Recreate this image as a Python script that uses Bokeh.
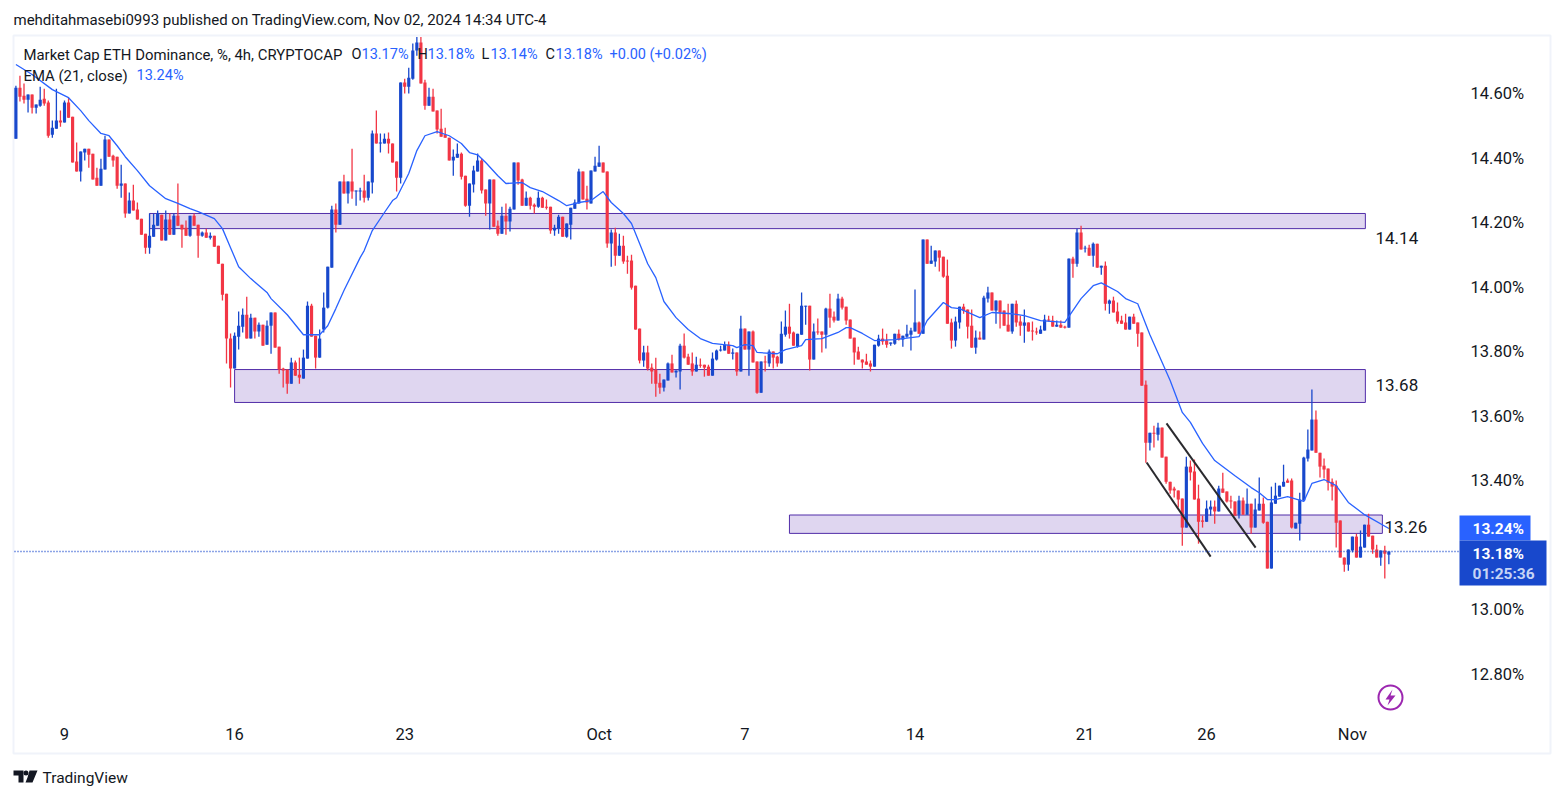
from bokeh.plotting import figure
from bokeh.embed import file_html
from bokeh.resources import INLINE
from bokeh.models import (ColumnDataSource, Label, LinearAxis, FixedTicker,
                          PrintfTickFormatter, Range1d)
import numpy as np

opens = [14.460,14.618,14.593,14.581,14.597,14.556,14.562,14.584,14.572,14.472,
14.491,14.516,14.510,14.572,14.528,14.389,14.358,14.417,14.429,14.413,
14.339,14.314,14.364,14.457,14.407,14.404,14.314,14.321,14.228,14.268,
14.240,14.212,14.165,14.122,14.156,14.190,14.224,14.144,14.209,14.162,
14.221,14.193,14.184,14.159,14.221,14.193,14.159,14.169,14.153,14.159,
14.128,14.072,13.979,13.840,13.747,13.846,13.877,13.914,13.840,13.905,
13.862,13.883,13.821,13.880,13.921,13.815,13.747,13.744,13.700,13.766,
13.728,13.716,13.778,13.942,13.849,13.781,13.868,13.936,14.060,14.240,
14.193,14.327,14.290,14.327,14.296,14.296,14.299,14.277,14.324,14.476,
14.445,14.445,14.460,14.445,14.389,14.339,14.634,14.621,14.646,14.733,
14.758,14.634,14.562,14.590,14.547,14.491,14.472,14.463,14.392,14.401,
14.413,14.345,14.252,14.318,14.358,14.392,14.302,14.259,14.333,14.190,
14.165,14.221,14.203,14.240,14.386,14.333,14.252,14.277,14.255,14.249,
14.277,14.249,14.249,14.175,14.181,14.218,14.156,14.193,14.243,14.259,
14.358,14.274,14.259,14.358,14.373,14.386,14.358,14.135,14.169,14.097,
14.128,14.082,14.082,14.004,13.871,13.772,13.797,13.750,13.744,13.703,
13.688,13.710,13.763,13.735,13.738,13.818,13.784,13.763,13.738,13.759,
13.759,13.753,13.725,13.775,13.803,13.803,13.821,13.793,13.797,13.738,
13.871,13.806,13.862,13.769,13.672,13.769,13.763,13.800,13.784,13.763,
13.852,13.877,13.859,13.815,13.852,13.939,13.942,13.775,13.862,13.862,
13.852,13.933,13.908,13.896,13.964,13.939,13.899,13.843,13.800,13.775,
13.769,13.763,13.753,13.818,13.840,13.834,13.824,13.824,13.855,13.837,
13.846,13.852,13.862,13.890,13.855,14.147,14.072,14.079,14.113,14.094,
14.035,13.890,13.834,13.890,13.939,13.930,13.880,13.812,13.843,13.837,
13.964,13.983,13.927,13.958,13.927,13.883,13.862,13.948,13.893,13.880,
13.890,13.865,13.862,13.855,13.865,13.899,13.896,13.877,13.883,13.877,
13.874,14.088,14.072,14.169,14.119,14.122,14.097,14.134,14.060,14.066,
13.948,13.958,13.924,13.896,13.890,13.868,13.908,13.890,13.859,13.697,
13.517,13.548,13.542,13.564,13.474,13.396,13.375,13.369,13.344,13.254,
13.443,13.428,13.344,13.276,13.272,13.310,13.319,13.304,13.375,13.366,
13.338,13.335,13.294,13.338,13.294,13.328,13.254,13.307,13.328,13.272,
13.127,13.328,13.350,13.381,13.400,13.400,13.251,13.266,13.338,13.468,
13.493,13.589,13.486,13.446,13.437,13.396,13.384,13.276,13.161,13.139,
13.183,13.226,13.161,13.192,13.263,13.229,13.186,13.161,13.183,13.170]

highs = [14.624,14.655,14.631,14.597,14.597,14.566,14.621,14.615,14.578,14.516,
14.615,14.547,14.578,14.587,14.528,14.448,14.420,14.429,14.429,14.413,
14.370,14.398,14.469,14.457,14.410,14.404,14.379,14.321,14.293,14.317,
14.262,14.212,14.165,14.228,14.228,14.237,14.224,14.237,14.228,14.228,
14.321,14.193,14.206,14.221,14.228,14.193,14.172,14.181,14.169,14.159,
14.128,14.072,13.979,13.856,13.859,13.924,13.933,13.970,13.917,13.905,
13.890,13.883,13.896,13.921,13.921,13.815,13.750,13.744,13.781,13.772,
13.781,13.806,13.955,13.948,13.849,13.868,13.983,14.063,14.252,14.259,
14.327,14.348,14.327,14.429,14.299,14.308,14.348,14.327,14.485,14.547,
14.476,14.476,14.479,14.445,14.389,14.634,14.646,14.680,14.755,14.775,
14.775,14.643,14.618,14.615,14.547,14.553,14.494,14.463,14.426,14.445,
14.417,14.345,14.321,14.376,14.414,14.398,14.302,14.333,14.333,14.206,
14.249,14.259,14.249,14.386,14.386,14.336,14.296,14.280,14.259,14.296,
14.280,14.271,14.249,14.193,14.224,14.218,14.197,14.246,14.271,14.367,
14.358,14.314,14.361,14.404,14.438,14.386,14.358,14.178,14.184,14.165,
14.159,14.097,14.100,14.004,13.871,13.818,13.818,13.763,13.781,13.731,
13.713,13.766,13.790,13.741,13.824,13.856,13.793,13.797,13.784,13.778,
13.759,13.759,13.797,13.806,13.818,13.831,13.831,13.809,13.797,13.911,
13.871,13.862,13.865,13.769,13.769,13.787,13.806,13.800,13.787,13.893,
13.927,13.948,13.862,13.855,13.983,13.942,13.942,13.887,13.902,13.862,
13.936,13.979,13.924,13.979,13.970,13.939,13.899,13.843,13.815,13.775,
13.793,13.772,13.821,13.852,13.871,13.855,13.828,13.855,13.868,13.849,
13.883,13.874,13.992,13.893,14.147,14.147,14.128,14.113,14.113,14.094,
14.085,13.902,13.908,13.939,13.948,13.930,13.930,13.865,13.862,13.973,
14.001,13.983,13.958,13.958,13.927,13.948,13.948,13.958,13.911,13.930,
13.890,13.893,13.874,13.880,13.914,13.911,13.911,13.896,13.896,13.880,
14.088,14.094,14.181,14.190,14.128,14.131,14.138,14.134,14.066,14.079,
13.961,13.970,13.952,13.911,13.917,13.908,13.917,13.890,13.859,13.710,
13.548,13.570,13.579,13.564,13.474,13.396,13.381,13.369,13.344,13.474,
13.462,13.465,13.387,13.291,13.338,13.338,13.338,13.384,13.424,13.366,
13.353,13.335,13.353,13.347,13.375,13.328,13.344,13.409,13.347,13.272,
13.381,13.393,13.384,13.449,13.406,13.406,13.269,13.362,13.474,13.558,
13.682,13.617,13.486,13.468,13.437,13.406,13.400,13.276,13.161,13.186,
13.226,13.235,13.245,13.263,13.297,13.229,13.201,13.183,13.198,13.180]

lows = [14.460,14.575,14.569,14.541,14.538,14.538,14.559,14.562,14.463,14.463,
14.491,14.497,14.510,14.525,14.386,14.358,14.327,14.392,14.370,14.333,
14.314,14.314,14.364,14.404,14.373,14.305,14.277,14.215,14.228,14.237,
14.209,14.162,14.103,14.103,14.156,14.190,14.144,14.144,14.162,14.162,
14.190,14.122,14.159,14.156,14.190,14.091,14.156,14.153,14.147,14.125,
14.072,13.958,13.763,13.688,13.747,13.806,13.859,13.840,13.840,13.840,
13.846,13.818,13.821,13.793,13.812,13.731,13.688,13.669,13.700,13.725,
13.700,13.716,13.778,13.846,13.747,13.781,13.859,13.933,14.060,14.169,
14.193,14.290,14.259,14.274,14.252,14.268,14.262,14.268,14.290,14.445,
14.417,14.445,14.414,14.386,14.296,14.321,14.600,14.600,14.643,14.717,
14.631,14.550,14.562,14.544,14.476,14.466,14.463,14.392,14.345,14.401,
14.333,14.249,14.218,14.293,14.358,14.290,14.221,14.178,14.187,14.159,
14.165,14.162,14.172,14.240,14.317,14.252,14.252,14.240,14.228,14.246,
14.246,14.240,14.165,14.159,14.165,14.156,14.153,14.147,14.243,14.259,
14.271,14.240,14.259,14.358,14.373,14.355,14.122,14.063,14.066,14.097,
14.072,14.041,13.992,13.868,13.763,13.753,13.741,13.700,13.660,13.669,
13.676,13.710,13.735,13.719,13.682,13.778,13.759,13.725,13.738,13.750,
13.722,13.725,13.725,13.772,13.800,13.803,13.793,13.775,13.725,13.738,
13.806,13.725,13.766,13.669,13.672,13.738,13.753,13.747,13.753,13.763,
13.846,13.840,13.818,13.812,13.852,13.883,13.741,13.775,13.852,13.797,
13.809,13.874,13.890,13.896,13.930,13.883,13.840,13.759,13.775,13.747,
13.759,13.738,13.753,13.815,13.821,13.812,13.818,13.821,13.834,13.815,
13.843,13.803,13.862,13.855,13.855,14.072,14.072,14.063,14.048,14.029,
13.886,13.809,13.815,13.871,13.917,13.840,13.812,13.793,13.837,13.837,
13.952,13.927,13.886,13.871,13.880,13.862,13.855,13.877,13.849,13.827,
13.862,13.834,13.852,13.855,13.865,13.893,13.877,13.877,13.874,13.871,
13.874,14.029,14.063,14.116,14.107,14.097,14.063,14.060,14.038,13.927,
13.917,13.921,13.886,13.886,13.868,13.868,13.886,13.815,13.694,13.455,
13.493,13.502,13.524,13.471,13.390,13.359,13.347,13.316,13.198,13.254,
13.400,13.341,13.204,13.254,13.272,13.291,13.266,13.304,13.362,13.332,
13.313,13.291,13.282,13.294,13.294,13.235,13.254,13.307,13.266,13.127,
13.127,13.328,13.350,13.381,13.393,13.251,13.251,13.214,13.338,13.459,
13.493,13.486,13.409,13.406,13.369,13.338,13.192,13.161,13.117,13.120,
13.177,13.161,13.161,13.192,13.226,13.173,13.161,13.136,13.096,13.140]

closes = [14.618,14.590,14.581,14.597,14.556,14.566,14.581,14.569,14.469,14.494,
14.516,14.510,14.572,14.525,14.386,14.358,14.420,14.429,14.410,14.333,
14.314,14.367,14.457,14.404,14.392,14.314,14.321,14.228,14.268,14.237,
14.209,14.162,14.122,14.159,14.193,14.228,14.144,14.209,14.162,14.221,
14.190,14.178,14.159,14.221,14.190,14.159,14.169,14.153,14.159,14.125,
14.072,13.976,13.840,13.747,13.849,13.880,13.914,13.840,13.905,13.862,
13.883,13.818,13.880,13.921,13.812,13.744,13.741,13.700,13.766,13.725,
13.719,13.781,13.942,13.846,13.781,13.840,13.936,14.063,14.240,14.193,
14.327,14.290,14.327,14.296,14.299,14.299,14.277,14.327,14.476,14.445,
14.448,14.460,14.445,14.386,14.339,14.634,14.621,14.649,14.733,14.758,
14.631,14.562,14.590,14.544,14.488,14.466,14.463,14.392,14.404,14.413,
14.342,14.252,14.321,14.361,14.392,14.299,14.259,14.333,14.187,14.165,
14.221,14.203,14.243,14.386,14.330,14.252,14.277,14.252,14.249,14.277,
14.246,14.246,14.175,14.184,14.218,14.156,14.197,14.246,14.262,14.358,
14.271,14.262,14.361,14.376,14.386,14.355,14.135,14.169,14.097,14.128,
14.079,14.079,13.998,13.868,13.772,13.797,13.747,13.738,13.700,13.688,
13.713,13.763,13.735,13.741,13.818,13.781,13.759,13.738,13.759,13.756,
13.750,13.725,13.778,13.803,13.806,13.821,13.793,13.797,13.738,13.871,
13.806,13.862,13.766,13.672,13.769,13.766,13.800,13.781,13.763,13.855,
13.877,13.855,13.818,13.855,13.942,13.942,13.775,13.862,13.859,13.852,
13.933,13.905,13.896,13.964,13.936,13.896,13.840,13.797,13.775,13.766,
13.759,13.753,13.821,13.840,13.831,13.821,13.828,13.855,13.837,13.849,
13.855,13.865,13.890,13.855,14.147,14.072,14.082,14.113,14.091,14.032,
13.886,13.834,13.893,13.939,13.927,13.877,13.812,13.843,13.837,13.967,
13.983,13.927,13.958,13.921,13.880,13.862,13.948,13.890,13.880,13.890,
13.862,13.862,13.859,13.868,13.899,13.896,13.877,13.883,13.874,13.874,
14.088,14.072,14.169,14.116,14.122,14.097,14.134,14.060,14.066,13.948,
13.958,13.921,13.893,13.886,13.868,13.908,13.886,13.855,13.694,13.517,
13.548,13.545,13.564,13.471,13.396,13.369,13.369,13.341,13.254,13.443,
13.425,13.341,13.272,13.272,13.313,13.319,13.304,13.375,13.362,13.335,
13.335,13.291,13.338,13.294,13.328,13.254,13.310,13.328,13.269,13.127,
13.332,13.353,13.384,13.396,13.393,13.254,13.269,13.341,13.471,13.496,
13.589,13.486,13.443,13.434,13.393,13.381,13.269,13.161,13.139,13.186,
13.226,13.161,13.195,13.263,13.226,13.186,13.161,13.183,13.173,13.180]

ema_index = [0,4,9,13,16,18,21,23,25,27,30,33,37,40,43,45,49,51,53,55,58,62,63,67,71,75,77,79,81,85,86,88,91,93,94,97,99,101,104,107,110,112,114,116,119,121,125,127,130,134,136,139,142,145,147,150,152,154,156,158,160,163,166,169,172,177,178,180,182,183,188,190,194,195,199,203,205,206,209,212,217,223,225,229,231,233,238,241,246,249,253,259,263,266,268,272,274,277,280,285,288,290,293,296,301,305,307,309,311,314,318,320,323,326,329,333,339]
ema_value = [14.690,14.659,14.612,14.587,14.547,14.516,14.476,14.469,14.438,14.404,14.361,14.314,14.274,14.259,14.243,14.234,14.212,14.181,14.122,14.063,14.026,13.983,13.964,13.914,13.852,13.852,13.880,13.933,13.989,14.091,14.113,14.175,14.231,14.268,14.277,14.352,14.423,14.469,14.482,14.469,14.445,14.417,14.410,14.386,14.345,14.321,14.324,14.308,14.296,14.268,14.252,14.262,14.268,14.296,14.262,14.228,14.197,14.135,14.072,14.029,13.955,13.905,13.868,13.840,13.825,13.818,13.812,13.821,13.818,13.797,13.793,13.806,13.818,13.837,13.840,13.859,13.874,13.874,13.856,13.834,13.837,13.846,13.896,13.952,13.936,13.933,13.905,13.921,13.917,13.911,13.896,13.890,13.964,14.004,14.013,13.986,13.964,13.948,13.852,13.710,13.611,13.580,13.515,13.462,13.415,13.378,13.362,13.341,13.341,13.350,13.335,13.391,13.403,13.384,13.332,13.294,13.251]

zone_start = [33.0, 54.0, 191.0]
zone_end = [333.2, 333.2, 337.4]
zone_top = [14.228, 13.744, 13.293]
zone_bottom = [14.181, 13.642, 13.236]
zone_labels = ["14.14", "13.68", "13.26"]

trend_x0 = [279.2, 284.1]
trend_y0 = [13.456, 13.577]
trend_x1 = [295.0, 306.1]
trend_y1 = [13.164, 13.192]

date_ticks = [12, 54, 96, 144, 180, 222, 264, 294, 330]
date_labels = ["9", "16", "23", "Oct", "7", "14", "21", "26", "Nov"]
price_ticks = [12.8, 13.0, 13.4, 13.6, 13.8, 14.0, 14.2, 14.4, 14.6]
last_price = 13.18
ema_last = 13.24

BLUE = "#1848cc"
RED = "#f23645"
FONT = "Roboto"
INK = "#131722"
W, H = 1555, 790


def X(px):
    return (px - 15.4) / 4.05


def Y(py):
    return 14.6 - (py - 93) / 322.5


p = figure(width=W, height=H, output_backend="svg", toolbar_location=None,
           x_range=Range1d(X(0), X(W)), y_range=Range1d(Y(H), Y(0)),
           min_border=0, x_axis_location=None, y_axis_location=None,
           background_fill_color="white", border_fill_color="white", outline_line_color=None)
p.grid.visible = False

xa = LinearAxis(ticker=FixedTicker(ticks=date_ticks), fixed_location=Y(718),
                major_label_overrides={t: l for t, l in zip(date_ticks, date_labels)})
ya = LinearAxis(ticker=FixedTicker(ticks=price_ticks), fixed_location=X(1460),
                formatter=PrintfTickFormatter(format="%.2f%%"))
for a in (xa, ya):
    a.axis_line_color = None
    a.major_tick_line_color = None
    a.minor_tick_line_color = None
    a.major_label_text_color = INK
    a.major_label_text_font = FONT
    a.major_label_text_font_size = "16.5px"
xa.major_label_standoff = 0
ya.major_label_standoff = 4
p.add_layout(xa, "below")
p.add_layout(ya, "right")

# outer pane border
p.quad(left=[X(13)], right=[X(1550)], top=[Y(35)], bottom=[Y(753)],
       fill_color=None, line_color="#f0f3fa", line_width=2)

p.quad(left=zone_start, right=zone_end, top=zone_top, bottom=zone_bottom,
       fill_color="#d1c4e9", fill_alpha=0.7, line_color="#512da8", line_width=1)

o, h, l, c = map(np.array, (opens, highs, lows, closes))
idx = np.arange(len(o))
up = c >= o
for mask, col in ((up, BLUE), (~up, RED)):
    src = ColumnDataSource(dict(x=idx[mask], h=h[mask], l=l[mask],
                                t=np.maximum(o, c)[mask], b=np.minimum(o, c)[mask]))
    p.segment("x", "h", "x", "l", source=src, line_color=col, line_width=1.3)
    p.vbar("x", 0.78, "t", "b", source=src, fill_color=col, line_color=None)

p.line(ema_index, ema_value, line_color="#2962ff", line_width=1.3)
p.segment(trend_x0, trend_y0, trend_x1, trend_y1, line_color="#2a2a2e", line_width=2)

p.segment([X(14)], [last_price], [X(1460)], [last_price], line_color=BLUE,
          line_dash="1 2", line_width=1.4)


def text(px, py, s, color=INK, size=14.5, weight="normal", align="left"):
    p.add_layout(Label(x=X(px), y=Y(py), text=s, text_color=color, text_font=FONT,
                       text_font_size=f"{size}px", text_font_style=weight,
                       text_baseline="middle", text_align=align))


text(13, 19, "mehditahmasebi0993 published on TradingView.com, Nov 02, 2024 14:34 UTC-4", size=15)
text(23, 54, "Market Cap ETH Dominance, %, 4h, CRYPTOCAP", size=14.9)
for px, s, col in [(351, "O", INK), (361, "13.17%", "#2962ff"), (417, "H", INK), (427, "13.18%", "#2962ff"),
                   (481, "L", INK), (490, "13.14%", "#2962ff"), (545, "C", INK), (555, "13.18%", "#2962ff"),
                   (609, "+0.00 (+0.02%)", "#2962ff")]:
    text(px, 54, s, col)
text(23, 75, "EMA (21, close)", size=14.9)
text(136, 75, "13.24%", "#2962ff")

text(1375, 237, zone_labels[0], "#131722", 17)
text(1375, 384, zone_labels[1], "#131722", 17)
text(1384, 526, zone_labels[2], "#131722", 17)

p.quad(left=[X(1459)], right=[X(1530)], top=[Y(515)], bottom=[Y(540)],
       fill_color="#2962ff", line_color=None)
p.quad(left=[X(1459)], right=[X(1546)], top=[Y(540)], bottom=[Y(585)],
       fill_color=BLUE, line_color=None)
text(1472, 528, f"{ema_last:.2f}%", "white", 15.5, "bold")
text(1472, 553, f"{last_price:.2f}%", "white", 15.5, "bold")
text(1472, 573, "01:25:36", "#c6d4f5", 15.5, "bold")

# lightning badge
p.scatter([X(1390)], [Y(697)], size=24, marker="circle", fill_color="white",
          line_color="#9c27b0", line_width=2)
p.patch([X(v) for v in (1392, 1385, 1389, 1387, 1395, 1390)],
        [Y(v) for v in (689, 699, 699, 705, 695, 695)], fill_color="#9c27b0", line_color=None)

# TradingView logo
for xs, ys in [((13, 23, 23, 18, 18, 13), (770, 770, 782, 782, 775, 775)),
               ((29, 37, 32, 25, 27), (770, 770, 782, 782, 777))]:
    p.patch([X(v) for v in xs], [Y(v) for v in ys], fill_color="#131722", line_color=None)
p.scatter([X(25.5)], [Y(772.5)], size=5, marker="circle", fill_color="#131722", line_color=None)
text(42, 777, "TradingView", INK, 15.5)

open("out.html", "w").write(file_html(p, INLINE))
